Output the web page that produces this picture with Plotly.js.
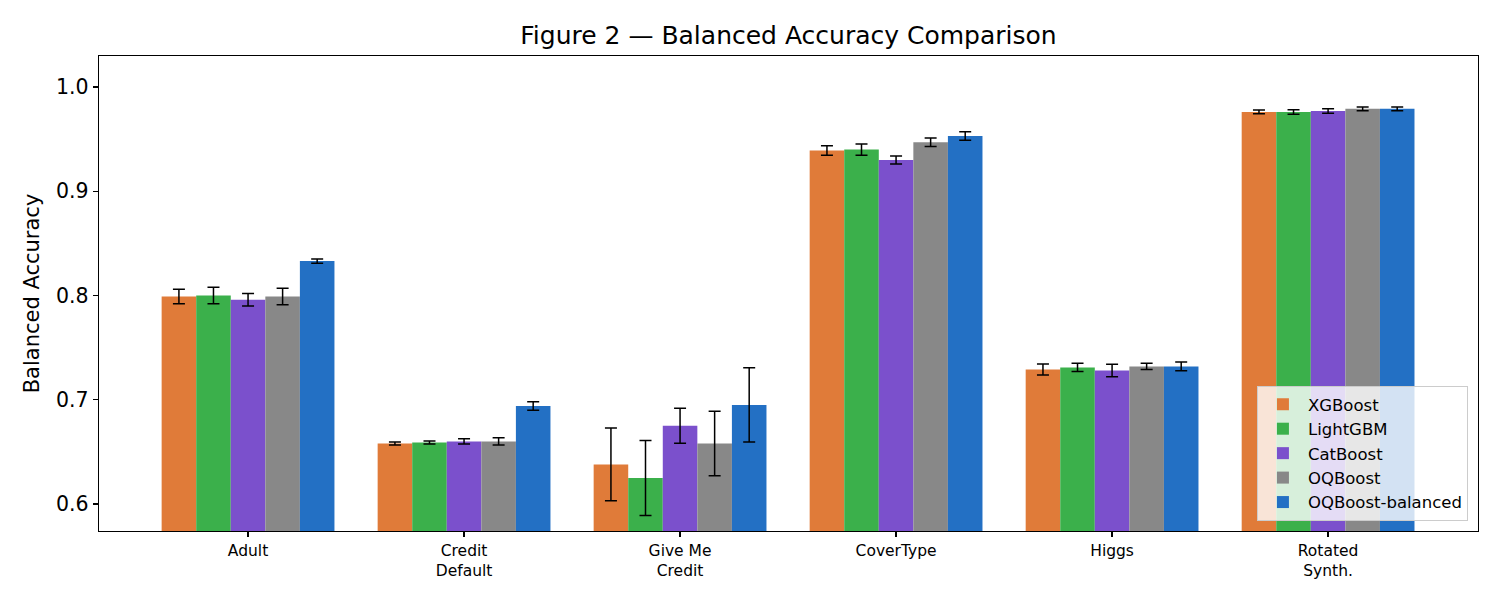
<!DOCTYPE html>
<html>
<head>
<meta charset="utf-8">
<script src="https://cdn.plot.ly/plotly-3.0.1.min.js"></script>
<style>html,body{margin:0;padding:0;background:#fff;}#chart{width:1500px;height:600px;}</style>
</head>
<body>
<div id="chart"></div>
<script>
const categories = ["Adult", "Credit<br>Default", "Give Me<br>Credit", "CoverType", "Higgs", "Rotated<br>Synth."];
const models = ["XGBoost", "LightGBM", "CatBoost", "OQBoost", "OQBoost-balanced"];
const xgboost      = [0.799, 0.658, 0.638, 0.939, 0.729, 0.976];
const xgboostErr   = [0.007, 0.0015, 0.035, 0.0045, 0.0053, 0.0018];
const lightgbm     = [0.800, 0.659, 0.625, 0.940, 0.731, 0.976];
const lightgbmErr  = [0.008, 0.0015, 0.036, 0.0054, 0.004, 0.0022];
const catboost     = [0.796, 0.660, 0.675, 0.930, 0.728, 0.977];
const catboostErr  = [0.006, 0.0025, 0.0168, 0.0038, 0.006, 0.0022];
const oqboost      = [0.799, 0.660, 0.658, 0.947, 0.732, 0.979];
const oqboostErr   = [0.008, 0.0035, 0.031, 0.004, 0.003, 0.0017];
const oqbal        = [0.833, 0.694, 0.695, 0.953, 0.732, 0.979];
const oqbalErr     = [0.002, 0.004, 0.0356, 0.004, 0.0043, 0.0017];
const colors = ["#E07B39", "#3BB04B", "#7B50CC", "#888888", "#2370C4"];

const values = [xgboost, lightgbm, catboost, oqboost, oqbal];
const errs = [xgboostErr, lightgbmErr, catboostErr, oqboostErr, oqbalErr];
const xs = categories.map((c, i) => i);

const traces = models.map((m, k) => ({
  type: "bar",
  name: m,
  x: xs,
  y: values[k],
  marker: {color: colors[k], line: {width: 0}},
  error_y: {type: "data", array: errs[k], visible: true, color: "#000000", thickness: 1.5, width: 6}
}));

const font = {family: "DejaVu Sans, sans-serif", color: "#000"};
const layout = {
  width: 1500, height: 600,
  margin: {l: 99, r: 22, t: 56, b: 69},
  paper_bgcolor: "#fff", plot_bgcolor: "#fff",
  font: font,
  barmode: "group", bargap: 0.2, bargroupgap: 0,
  title: {text: "Figure 2 — Balanced Accuracy Comparison", font: {family: font.family, size: 25, color: "#000"}, xref: "paper", x: 0.5, xanchor: "center", y: 0.942, yanchor: "middle"},
  xaxis: {
    range: [-0.69, 5.694],
    tickmode: "array", tickvals: xs, ticktext: categories,
    ticks: "outside", ticklen: 5, tickwidth: 1.3, tickcolor: "#000",
    tickfont: {family: font.family, size: 15.5, color: "#000"},
    showline: true, linecolor: "#000", linewidth: 1.3, mirror: true,
    showgrid: false, zeroline: false
  },
  yaxis: {
    range: [0.5741, 1.0297],
    tickmode: "array", tickvals: [0.6, 0.7, 0.8, 0.9, 1.0], ticktext: ["0.6", "0.7", "0.8", "0.9", "1.0"],
    ticks: "outside", ticklen: 5, tickwidth: 1.3, tickcolor: "#000",
    tickfont: {family: font.family, size: 20.5, color: "#000"},
    title: {text: "Balanced Accuracy", font: {family: font.family, size: 21, color: "#000"}, standoff: 10},
    showline: true, linecolor: "#000", linewidth: 1.3, mirror: true,
    showgrid: false, zeroline: false
  },
  legend: {
    x: 0.9927, xanchor: "right", y: 0.021, yanchor: "bottom",
    bgcolor: "rgba(255,255,255,0.8)", bordercolor: "#cccccc", borderwidth: 1,
    font: {family: font.family, size: 16.5, color: "#000"},
    tracegroupgap: 2, itemwidth: 40
  },
  showlegend: true
};

Plotly.newPlot("chart", traces, layout, {displayModeBar: false, staticPlot: true});
</script>
</body>
</html>
